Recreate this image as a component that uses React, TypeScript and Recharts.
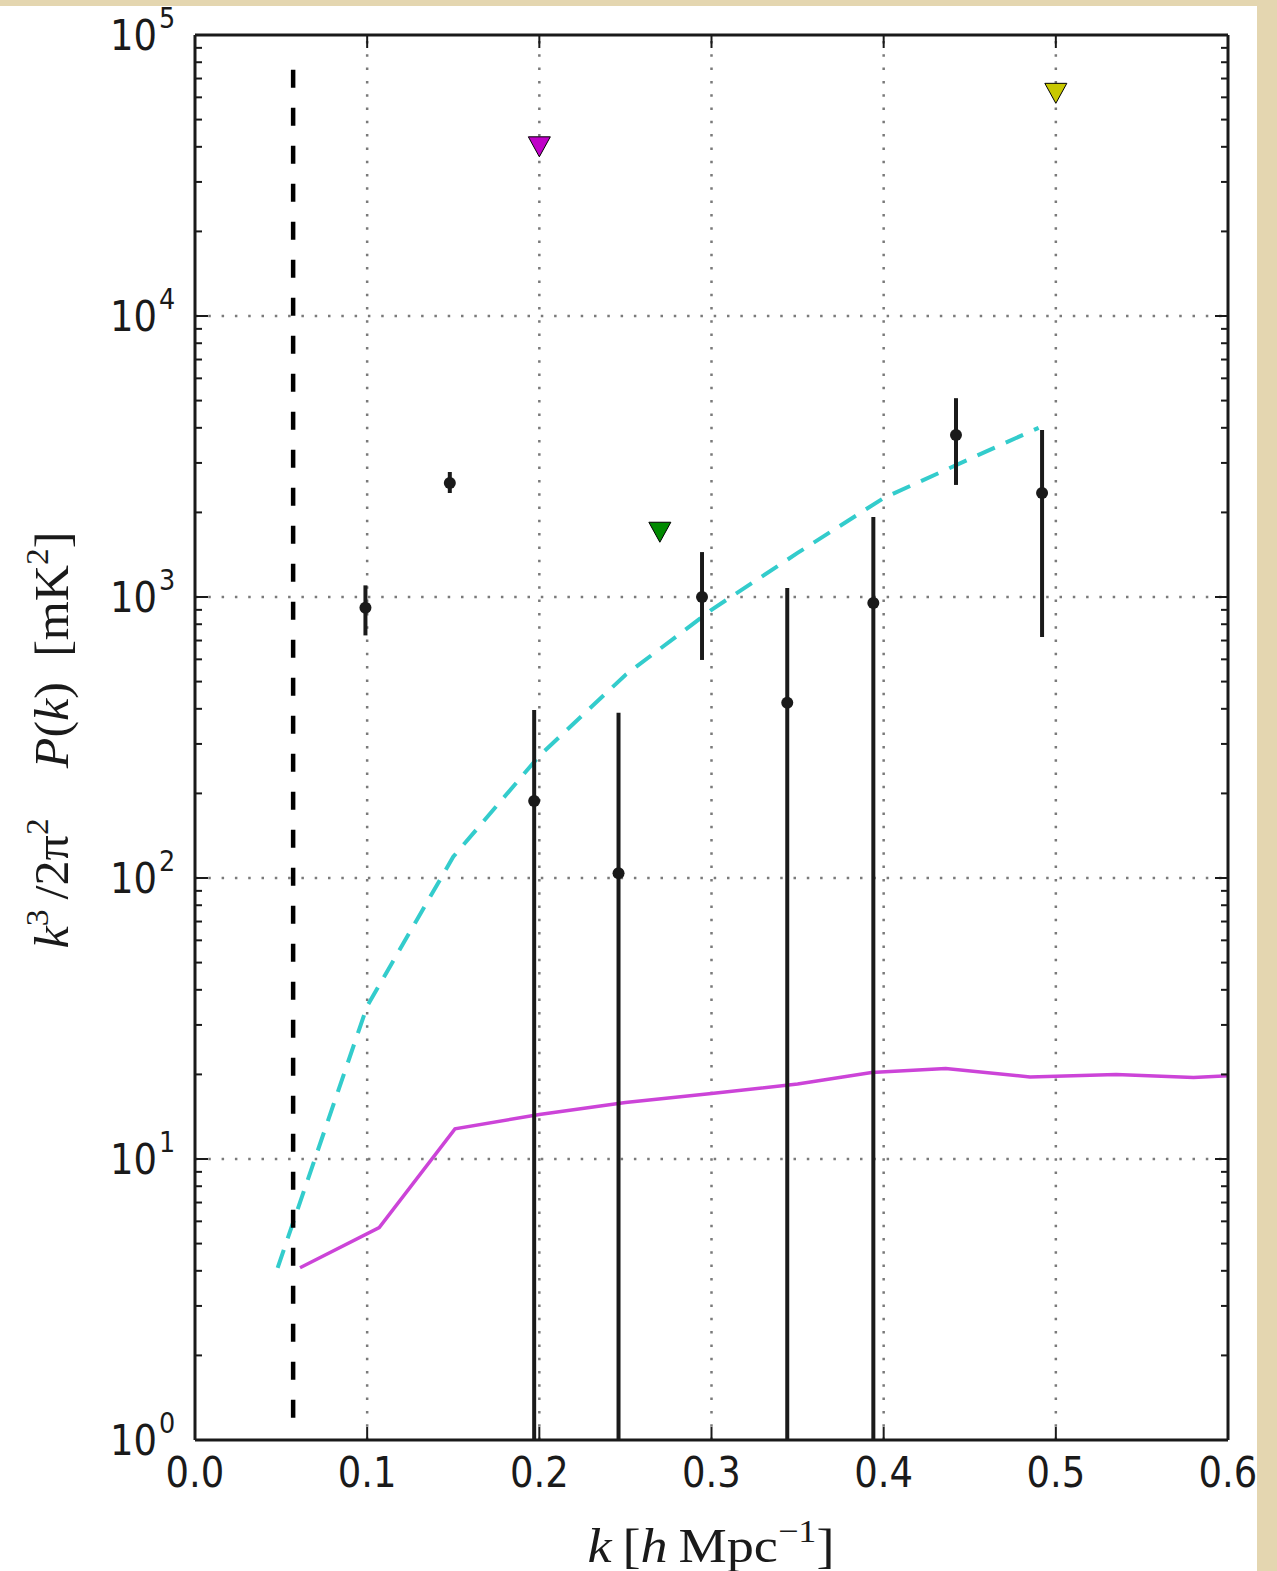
import React from "react";
import { ComposedChart, Line, Scatter, XAxis, YAxis, ErrorBar, ReferenceLine } from "recharts";

const xTicks = [0, 0.1, 0.2, 0.3, 0.4, 0.5, 0.6];
const xGrid = [0.1, 0.2, 0.3, 0.4, 0.5];
const decades = [1, 10, 100, 1000, 10000, 100000];
const decadeExp = ["0", "1", "2", "3", "4", "5"];
const minorSteps = [2, 3, 4, 5, 6, 7, 8, 9];

// measured power spectrum points with 1-sigma range (1 = runs off the bottom)
const pointK = [0.099, 0.148, 0.197, 0.246, 0.2945, 0.344, 0.394, 0.442, 0.492];
const pointP = [915, 2545, 188, 104, 1000, 420, 952, 3770, 2345];
const pointLow = [730, 2345, 1, 1, 597, 1, 1, 2505, 721];
const pointHigh = [1100, 2785, 396, 387, 1445, 1077, 1928, 5100, 3930];

// model curve (cyan dashed)
const modelK = [0.048, 0.1, 0.15, 0.2, 0.25, 0.3, 0.35, 0.4, 0.45, 0.49];
const modelP = [4.1, 35, 119, 272, 528, 900, 1435, 2250, 3100, 4000];

// noise level (magenta)
const noiseK = [0.061, 0.107, 0.151, 0.2, 0.25, 0.3, 0.35, 0.393, 0.436, 0.485, 0.535, 0.58, 0.6];
const noiseP = [4.1, 5.7, 12.8, 14.4, 15.9, 17.1, 18.5, 20.3, 21.0, 19.6, 20.0, 19.5, 19.8];

// upper limits from other experiments
const limitK = [0.2, 0.27, 0.5];
const limitP = [40000, 1700, 62000];
const limitColors = ["#c000c8", "#008a00", "#c8c800"];

// horizon / foreground limit
const horizonK = [0.057, 0.057];
const horizonP = [1.2, 83000];

const yTicks: number[] = [];
decades.forEach((d) => {
  yTicks.push(d);
  if (d < 100000) minorSteps.forEach((m) => yTicks.push(d * m));
});

const points = pointK.map((k, i) => ({
  k,
  p: pointP[i],
  err: [pointP[i] - pointLow[i], pointHigh[i] - pointP[i]],
}));
const model = modelK.map((k, i) => ({ k, p: modelP[i] }));
const noise = noiseK.map((k, i) => ({ k, p: noiseP[i] }));
const horizon = horizonK.map((k, i) => ({ k, p: horizonP[i] }));

const INK = "#1a1a1a";
const TICK_FONT = "'DejaVu Sans', sans-serif";
const MATH_FONT = "'Liberation Serif', 'DejaVu Serif', serif";

const squeeze = (x: number) => `translate(${x} 0) scale(0.88 1) translate(${-x} 0)`;

const BottomTick = (props: any) => {
  const { x, y, payload } = props;
  return (
    <g>
      <line x1={x} y1={y} x2={x} y2={y - 13} stroke={INK} strokeWidth={2} />
      <text x={x} y={y + 47} textAnchor="middle" fontSize={42} fontFamily={TICK_FONT} fill={INK} transform={squeeze(x)}>
        {payload.value.toFixed(1)}
      </text>
    </g>
  );
};

const TopTick = (props: any) => {
  const { x, y } = props;
  return <line x1={x} y1={y} x2={x} y2={y + 13} stroke={INK} strokeWidth={2} />;
};

const LeftTick = (props: any) => {
  const { x, y, payload } = props;
  const idx = decades.indexOf(payload.value);
  const major = idx >= 0;
  return (
    <g>
      <line x1={x} y1={y} x2={x + (major ? 13 : 7)} y2={y} stroke={INK} strokeWidth={2} />
      {major && (
        <>
          <text x={x - 38} y={y + 15} textAnchor="end" fontSize={42} fontFamily={TICK_FONT} fill={INK} transform={squeeze(x - 38)}>
            10
          </text>
          <text x={x - 36} y={y - 7} fontSize={29} fontFamily={TICK_FONT} fill={INK} transform={squeeze(x - 36)}>
            {decadeExp[idx]}
          </text>
        </>
      )}
    </g>
  );
};

const RightTick = (props: any) => {
  const { x, y, payload } = props;
  const major = decades.includes(payload.value);
  return <line x1={x} y1={y} x2={x - (major ? 13 : 7)} y2={y} stroke={INK} strokeWidth={2} />;
};

const Dot = (props: any) => <circle cx={props.cx} cy={props.cy} r={6} fill={INK} />;

const makeTriangle = (color: string) => (props: any) => {
  const { cx, cy } = props;
  return (
    <polygon
      points={`${cx - 11},${cy - 10} ${cx + 11},${cy - 10} ${cx},${cy + 10}`}
      fill={color}
      stroke="#000"
      strokeWidth={1}
    />
  );
};

const frame = { stroke: INK, strokeWidth: 3 };

export default function App() {
  return (
    <div style={{ position: "absolute", left: 0, top: 0, width: 1277, height: 1571, background: "#e4d6b0" }}>
      <div style={{ position: "absolute", left: 0, top: 6, width: 1257, height: 1565, background: "#ffffff" }} />
      <div style={{ position: "absolute", left: 0, top: 0 }}>
        <ComposedChart width={1277} height={1571} margin={{ top: 34, right: 48, bottom: 130, left: 194 }}>
          <XAxis
            xAxisId="bottom"
            dataKey="k"
            type="number"
            domain={[0, 0.6]}
            ticks={xTicks}
            interval={0}
            allowDataOverflow
            height={1}
            tickSize={0}
            tickMargin={0}
            axisLine={frame}
            tickLine={false}
            tick={<BottomTick />}
          />
          <XAxis
            xAxisId="top"
            orientation="top"
            dataKey="k"
            type="number"
            domain={[0, 0.6]}
            ticks={xTicks}
            interval={0}
            allowDataOverflow
            height={1}
            tickSize={0}
            tickMargin={0}
            axisLine={frame}
            tickLine={false}
            tick={<TopTick />}
          />
          <YAxis
            yAxisId="left"
            dataKey="p"
            type="number"
            scale="log"
            domain={[1, 100000]}
            ticks={yTicks}
            interval={0}
            allowDataOverflow
            width={1}
            tickSize={0}
            tickMargin={0}
            axisLine={frame}
            tickLine={false}
            tick={<LeftTick />}
          />
          <YAxis
            yAxisId="right"
            orientation="right"
            dataKey="p"
            type="number"
            scale="log"
            domain={[1, 100000]}
            ticks={yTicks}
            interval={0}
            allowDataOverflow
            width={1}
            tickSize={0}
            tickMargin={0}
            axisLine={frame}
            tickLine={false}
            tick={<RightTick />}
          />

          {decades.slice(1, 5).map((d) => (
            <ReferenceLine key={"h" + d} xAxisId="bottom" yAxisId="left" y={d} stroke="#7a7a7a" strokeWidth={2.5} strokeDasharray="2.5 10.8" />
          ))}
          {xGrid.map((g) => (
            <ReferenceLine key={"v" + g} xAxisId="bottom" yAxisId="left" x={g} stroke="#7a7a7a" strokeWidth={2.5} strokeDasharray="2.5 10.8" />
          ))}

          <Line
            xAxisId="bottom"
            yAxisId="left"
            data={noise}
            dataKey="p"
            type="linear"
            stroke="#cc44d8"
            strokeWidth={3.5}
            dot={false}
            isAnimationActive={false}
          />
          <Line
            xAxisId="bottom"
            yAxisId="left"
            data={model}
            dataKey="p"
            type="linear"
            stroke="#33cccc"
            strokeWidth={4}
            strokeDasharray="19 12"
            dot={false}
            isAnimationActive={false}
          />
          <Line
            xAxisId="bottom"
            yAxisId="left"
            data={horizon}
            dataKey="p"
            type="linear"
            stroke="#000"
            strokeWidth={4.5}
            strokeDasharray="18 20"
            dot={false}
            isAnimationActive={false}
          />
          <Scatter xAxisId="bottom" yAxisId="left" data={points} dataKey="p" shape={<Dot />} isAnimationActive={false}>
            <ErrorBar dataKey="err" direction="y" width={0} stroke={INK} strokeWidth={4} isAnimationActive={false} />
          </Scatter>
          {limitK.map((k, i) => (
            <Scatter
              key={"lim" + i}
              xAxisId="bottom"
              yAxisId="left"
              data={[{ k, p: limitP[i] }]}
              dataKey="p"
              shape={makeTriangle(limitColors[i])}
              isAnimationActive={false}
            />
          ))}
        </ComposedChart>
      </div>
      <svg width={1277} height={1571} style={{ position: "absolute", left: 0, top: 0, pointerEvents: "none" }}>
        <text x={711} y={1562} textAnchor="middle" fontSize={48} fontFamily={MATH_FONT} fill={INK} textLength={247} lengthAdjust="spacingAndGlyphs">
          <tspan fontStyle="italic">k</tspan>
          <tspan>{"\u2009["}</tspan>
          <tspan fontStyle="italic">h</tspan>
          <tspan>{"\u2009Mpc"}</tspan>
          <tspan fontSize={32} dy={-20}>{"\u22121"}</tspan>
          <tspan dy={20}>{"]"}</tspan>
        </text>
        <text
          x={68}
          y={740}
          transform="rotate(-90 68 740)"
          textAnchor="middle"
          fontSize={48}
          fontFamily={MATH_FONT}
          fill={INK}
          textLength={417}
          lengthAdjust="spacingAndGlyphs"
        >
          <tspan fontStyle="italic">k</tspan>
          <tspan fontSize={32} dy={-20}>3</tspan>
          <tspan dy={20}>{"\u2009/2\u03c0"}</tspan>
          <tspan fontSize={32} dy={-20}>2</tspan>
          <tspan dy={20}>{"\u2003"}</tspan>
          <tspan fontStyle="italic">P</tspan>
          <tspan>(</tspan>
          <tspan fontStyle="italic">k</tspan>
          <tspan>{")\u2002[mK"}</tspan>
          <tspan fontSize={32} dy={-20}>2</tspan>
          <tspan dy={20}>]</tspan>
        </text>
      </svg>
    </div>
  );
}
